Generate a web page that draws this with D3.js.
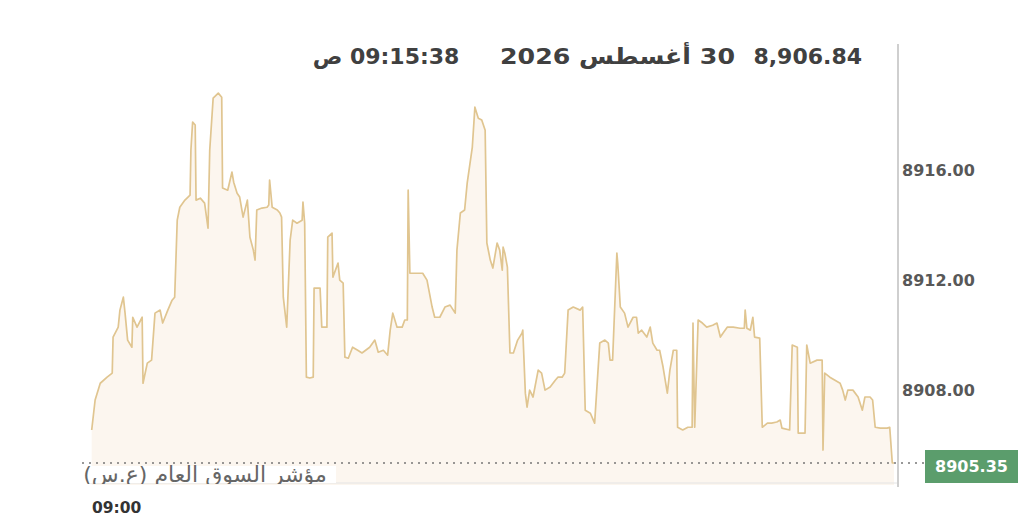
<!DOCTYPE html>
<html><head><meta charset="utf-8">
<script src="https://cdn.jsdelivr.net/npm/d3@7/dist/d3.min.js"></script>
<style>html,body{margin:0;padding:0;background:#fff;}svg{display:block;}</style>
</head><body>
<svg id="c" width="1024" height="524"></svg>
<script>
// seconds after 09:00
const times = [0,4,10,18,24,25,31,33,37,39,42,47,48,53,59,60,65,70,74,80,83,89,94,97,100,103,109,115,116,118,121,122,127,132,136,138,142,148,152,153,159,164,166,170,173,177,182,185,189,191,193,199,205,207,208,211,217,220,222,224,228,232,235,240,246,247,249,251,255,259,260,267,269,275,276,281,282,288,290,294,296,300,305,311,316,325,331,335,341,346,349,352,357,363,366,369,370,372,380,387,392,398,401,407,413,419,425,427,431,436,439,445,448,452,456,460,462,466,469,474,477,480,481,483,486,489,493,498,503,504,507,509,512,516,522,526,530,536,542,545,550,553,557,563,571,574,577,583,588,594,600,604,606,609,614,615,618,623,627,633,637,639,643,649,653,656,661,664,668,673,676,680,684,685,691,697,702,703,705,709,714,719,726,731,735,738,743,750,758,763,764,766,770,773,775,781,784,790,795,801,805,807,816,819,825,826,834,836,840,848,854,855,857,863,869,875,878,881,884,890,896,901,904,910,913,916,922,930,933,936,938];
const values = [8906.55,8907.64,8908.25,8908.47,8908.62,8909.93,8910.29,8910.91,8911.38,8910.80,8909.82,8909.56,8910.65,8910.29,8910.65,8908.25,8908.98,8909.09,8910.80,8910.91,8910.44,8910.91,8911.27,8911.38,8914.18,8914.65,8914.91,8915.09,8916.73,8917.75,8917.64,8914.91,8914.98,8914.80,8913.89,8916.73,8918.62,8918.80,8918.65,8915.35,8915.27,8915.93,8915.56,8915.16,8915.02,8914.29,8914.91,8913.56,8913.09,8912.73,8914.55,8914.62,8914.65,8914.73,8915.64,8914.65,8914.55,8914.44,8914.29,8911.38,8910.29,8913.45,8914.18,8914.07,8914.18,8914.84,8914.07,8908.47,8908.44,8908.47,8911.71,8911.71,8910.29,8910.29,8913.56,8913.71,8912.11,8912.62,8912.00,8911.89,8909.20,8909.16,8909.56,8909.45,8909.35,8909.56,8909.82,8909.38,8909.45,8909.27,8910.18,8910.80,8910.29,8910.29,8910.55,8910.55,8915.27,8912.25,8912.25,8912.25,8912.00,8911.02,8910.65,8910.65,8911.02,8911.09,8910.80,8913.09,8914.44,8914.55,8915.53,8916.84,8918.29,8917.89,8917.82,8917.45,8913.35,8912.73,8912.44,8913.35,8913.09,8912.36,8913.20,8912.98,8912.47,8909.35,8909.35,8909.82,8910.07,8910.18,8907.89,8907.38,8908.00,8907.75,8908.73,8908.62,8908.00,8908.11,8908.36,8908.47,8908.47,8908.62,8910.91,8911.02,8910.91,8911.02,8907.27,8907.16,8906.80,8909.71,8909.82,8909.71,8909.09,8909.09,8912.98,8912.62,8911.02,8910.80,8910.29,8910.65,8910.65,8910.07,8910.18,8909.93,8910.29,8909.71,8909.45,8909.45,8908.84,8907.89,8908.73,8909.45,8909.45,8906.65,8906.55,8906.65,8906.65,8910.44,8906.65,8910.55,8910.44,8910.29,8910.36,8910.44,8909.93,8910.07,8910.29,8910.29,8910.25,8910.25,8910.91,8910.25,8910.18,8910.65,8909.93,8909.89,8906.65,8906.80,8906.80,8906.84,8906.91,8906.62,8906.55,8909.64,8909.56,8906.44,8906.44,8909.64,8908.98,8909.09,8909.09,8905.82,8908.62,8908.47,8908.36,8908.25,8908.00,8907.64,8908.00,8908.00,8907.75,8907.27,8907.75,8907.75,8907.64,8906.65,8906.62,8906.62,8906.65,8905.35,8905.35];
const yTicks = [8908, 8912, 8916];
const xTickLabels = ["09:00"];
const lastValue = 8905.35;
const headerValue = "8,906.84";
const headerDate = "30 أغسطس 2026";
const headerTime = "09:15:38 ص";
const indexName = "مؤشر السوق العام (ع.س)";

const svg = d3.select("#c");
const F = "'DejaVu Sans', sans-serif";
const plotL = 91.7, plotR = 894, plotT = 45, plotB = 485;
const x = d3.scaleLinear().domain([0, 938]).range([plotL, plotR]);
const y = d3.scaleLinear().domain([8904.55, 8920.55]).range([plotB, plotT]);
const data = times.map((t, i) => ({t, v: values[i]}));

svg.append("defs").append("clipPath").attr("id", "lblclip")
  .append("rect").attr("x", 60).attr("y", 455).attr("width", 300).attr("height", 29);

// area
svg.append("path").datum(data)
  .attr("d", d3.area().x(d => x(d.t)).y0(plotB).y1(d => y(d.v)))
  .attr("fill", "#fcf6ef");
svg.append("path").datum(data)
  .attr("d", d3.line().x(d => x(d.t)).y(d => y(d.v)))
  .attr("fill", "none").attr("stroke", "#e0c590").attr("stroke-width", 1.7)
  .attr("stroke-linejoin", "round");

// bottom border
svg.append("line").attr("x1", 90).attr("x2", 898).attr("y1", plotB - 2).attr("y2", plotB - 2)
  .attr("stroke", "#e4e4e4").attr("stroke-width", 1);

// right axis
const yAxis = d3.axisRight(y).tickValues(yTicks).tickSize(0).tickPadding(4).tickFormat(d3.format(".2f"));
const ag = svg.append("g").attr("transform", "translate(898,0)").call(yAxis);
ag.select(".domain").remove();
ag.append("line").attr("x1", 0).attr("x2", 0).attr("y1", 44).attr("y2", 487)
  .attr("stroke", "#cfcfcf").attr("stroke-width", 2);
ag.selectAll(".tick text").attr("font-family", F)
  .attr("font-size", 16).attr("font-weight", 700).attr("fill", "#585858").attr("x", 4);

// last value dotted line
svg.append("line").attr("x1", 82).attr("x2", 925).attr("y1", y(lastValue)).attr("y2", y(lastValue))
  .attr("stroke", "#777").attr("stroke-width", 1.5).attr("stroke-dasharray", "2,5");
svg.append("rect").attr("x", 925).attr("y", y(lastValue) - 13).attr("width", 93).attr("height", 33)
  .attr("fill", "#5b9d6c");
svg.append("text").attr("x", 971.5).attr("y", y(lastValue) + 9).attr("text-anchor", "middle")
  .attr("font-family", F).attr("font-size", 16).attr("font-weight", 700)
  .attr("fill", "#fff").text(d3.format(".2f")(lastValue));

// index name label
svg.append("rect").attr("x", 76).attr("y", 466).attr("width", 260).attr("height", 17).attr("fill", "#fff");
svg.append("text").attr("x", 205).attr("y", 482).attr("text-anchor", "middle").attr("direction", "rtl")
  .attr("clip-path", "url(#lblclip)")
  .attr("font-family", F).attr("font-size", 22)
  .attr("fill", "#666").text(indexName);

// x label
svg.append("text").attr("x", 92).attr("y", 513)
  .attr("font-family", F).attr("font-size", 15.5).attr("font-weight", 700)
  .attr("fill", "#333").text(xTickLabels[0]);

// header
svg.append("text").attr("x", 862).attr("y", 64).attr("text-anchor", "end")
  .attr("font-family", F).attr("font-size", 22).attr("font-weight", 700).attr("fill", "#404040").text(headerValue);
svg.append("text").attr("x", 617.5).attr("y", 64).attr("text-anchor", "middle").attr("direction", "rtl")
  .attr("textLength", 235).attr("lengthAdjust", "spacingAndGlyphs")
  .attr("font-family", F).attr("font-size", 22).attr("font-weight", 700).attr("fill", "#404040").text(headerDate);
svg.append("text").attr("x", 386).attr("y", 64).attr("text-anchor", "middle").attr("direction", "rtl")
  .attr("font-family", F).attr("font-size", 22).attr("font-weight", 700).attr("fill", "#404040").text(headerTime);
</script>
</body></html>
